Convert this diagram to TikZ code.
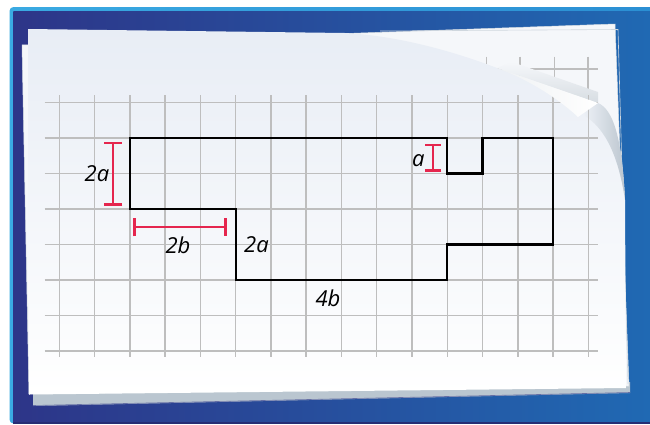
\documentclass[tikz,border=0pt]{standalone}
\usepackage{fontspec}
\setmainfont{Open Sans}
\usetikzlibrary{arrows.meta}
\definecolor{navy}{HTML}{2D3588}
\definecolor{blueR}{HTML}{2069B3}
\definecolor{cyanA}{HTML}{3AAAE2}
\definecolor{cyanB}{HTML}{2A8DD2}
\definecolor{gridgray}{HTML}{BEBEBE}
\definecolor{dimred}{HTML}{E5264E}
\definecolor{pagetop}{HTML}{E8EDF5}
\definecolor{backsheet}{HTML}{F5F7FA}
\definecolor{stackgray}{HTML}{BAC6D0}
\definecolor{shadowgray}{HTML}{BCC6CF}
\begin{document}
\begin{tikzpicture}[x=1pt,y=-1pt,
  gridline/.style={draw=gridgray, line width=1.5pt},
  outline/.style={draw=black, line width=2.3pt, line join=miter},
  dimline/.style={draw=dimred, line width=2.3pt, {Bar[width=18pt]}-{Bar[width=18pt]}},
  lbl/.style={font=\fontsize{22}{22}\selectfont\itshape, inner sep=0pt, anchor=base}]
\useasboundingbox (0,0) rectangle (650,424);
\fill[white] (0,0) rectangle (650,424);
% frame
\begin{scope}
\clip (0,0) rectangle (650,424);
\shade[left color=cyanA, right color=cyanB, rounded corners=4pt] (9.5,7) rectangle (700,423.5);
\shade[left color=navy, right color=blueR] (13.3,11.5) rectangle (650,422.5);
\fill[navy!85!black] (13.3,422.3) rectangle (650,423.5);
\end{scope}
% back sheets
\fill[stackgray] (33,394) -- (33,406) -- (630,393) -- (630,382) -- cycle;
\draw[navy!60!stackgray, line width=0.6pt] (33,405.5) -- (630,392.5);
\fill[backsheet, draw=stackgray!60, line width=0.5pt] (22,45) -- (615,24) -- (629,386) -- (29,394) -- cycle;
\draw[stackgray!70, line width=0.6pt] (380,31) -- (618,29.5) -- (628,384);
% grid on the back sheet revealed by the curl
\foreach \x in {486.7,520,554.7,588} \draw[gridline] (\x,56.7) -- (\x,100);
\draw[gridline] (497,69) -- (598,69);
% front sheet
\shade[top color=pagetop, bottom color=white]
  (28,29) -- (345,33) .. controls (400,36) and (455,52) .. (497,68) -- (598,103)
  .. controls (614,110) and (622,140) .. (625,200) -- (626,388) -- (29,394.5) -- cycle;
% shadow of curl on the right edge
\shade[left color=white!30!pagetop, right color=shadowgray]
  (582,114) -- (598,103) .. controls (614,110) and (622,140) .. (625,200)
  .. controls (619,160) and (607,128) .. cycle;
% shadow above the flap
\shade[top color=backsheet, bottom color=shadowgray!60]
  (497,68) -- (512,62) -- (598,92) -- (598,103) -- cycle;
% main grid
\foreach \i in {0,...,15} \draw[gridline] (59.3+35.27*\i,95) -- (59.3+35.27*\i,357);
\foreach \j in {0,...,7} \draw[gridline] (44.7,102.7+35.45*\j) -- (597.5,102.7+35.45*\j);
% flap
\shade[left color=white!75!shadowgray, right color=white]
  (497,68) -- (598,103) -- (578,117) .. controls (560,100) and (530,80) .. cycle;
% the shape
\coordinate (A) at (129.84,138.15);
\coordinate (B) at (447.27,138.15);
\coordinate (C) at (447.27,173.6);
\coordinate (D) at (482.54,173.6);
\coordinate (E) at (482.54,138.15);
\coordinate (F) at (553.08,138.15);
\coordinate (G) at (553.08,244.5);
\coordinate (H) at (447.27,244.5);
\coordinate (I) at (447.27,279.95);
\coordinate (J) at (235.65,279.95);
\coordinate (K) at (235.65,209.05);
\coordinate (L) at (129.84,209.05);
\draw[outline] (A) -- (B) -- (C) -- (D) -- (E) -- (F) -- (G) -- (H) -- (I) -- (J) -- (K) -- (L) -- cycle;
% dimension bars
\coordinate (v1) at (113.3,142);
\coordinate (v2) at (113.3,205.7);
\coordinate (h1) at (133.3,227.3);
\coordinate (h2) at (226.7,227.3);
\coordinate (s1) at (433.3,144);
\coordinate (s2) at (433.3,171.7);
\draw[dimline] (v1) -- (v2);
\draw[dimline] (h1) -- (h2);
\draw[dimline, {Bar[width=16pt]}-{Bar[width=16pt]}] (s1) -- (s2);
% labels
\node[lbl] (l2a) at (97,181.7) {2a};
\node[lbl] (l2b) at (178,253) {2b};
\node[lbl] (r2a) at (256.5,252.7) {2a};
\node[lbl] (la) at (418.3,166) {a};
\node[lbl] (l4b) at (328,306.7) {4b};
\end{tikzpicture}
\end{document}
